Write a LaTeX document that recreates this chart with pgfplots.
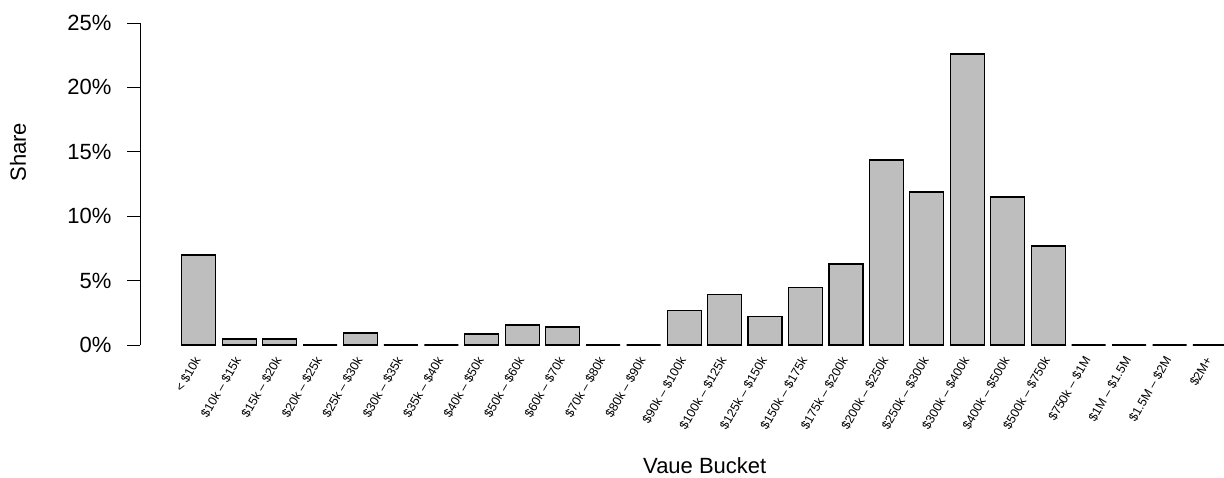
\documentclass[border=0pt]{standalone}
\usepackage{fontspec}
\setmainfont{Liberation Sans}
\usepackage{pgfplots}
\pgfplotsset{compat=1.18}
\definecolor{bargray}{HTML}{BEBEBE}

\begin{document}
\begin{tikzpicture}
\begin{axis}[
    scale only axis,
    width=542pt, height=161pt,
    xmin=-1.451, xmax=25.347,
    ymin=0, ymax=25,
    axis y line*=left,
    axis x line*=bottom,
    axis line style={-},
    x axis line style={draw=none},
    xtick style={draw=none},
    ytick style={black, line width=0.5pt},
    tick align=outside,
    major tick length=6.5pt,
    ytick={0,5,10,15,20,25},
    yticklabels={0\%,5\%,10\%,15\%,20\%,25\%},
    yticklabel style={font=\fontsize{11}{13}\selectfont, anchor=east, inner sep=0pt, xshift=-7.6pt},
    xtick={0,...,25},
    xticklabels={
        {< \$10k},{\$10k -- \$15k},{\$15k -- \$20k},{\$20k -- \$25k},{\$25k -- \$30k},
        {\$30k -- \$35k},{\$35k -- \$40k},{\$40k -- \$50k},{\$50k -- \$60k},{\$60k -- \$70k},
        {\$70k -- \$80k},{\$80k -- \$90k},{\$90k -- \$100k},{\$100k -- \$125k},{\$125k -- \$150k},
        {\$150k -- \$175k},{\$175k -- \$200k},{\$200k -- \$250k},{\$250k -- \$300k},{\$300k -- \$400k},
        {\$400k -- \$500k},{\$500k -- \$750k},{\$750k -- \$1M},{\$1M -- \$1.5M},{\$1.5M -- \$2M},{\$2M+}},
    xticklabel style={font=\fontsize{6.2}{7}\selectfont, rotate=60, anchor=east, inner sep=0pt, yshift=0.6pt},
    xlabel={Vaue Bucket},
    ylabel={Share},
    every axis x label/.style={at={(axis description cs:0.521,-0.3975)}, anchor=base, font=\fontsize{11}{13}\selectfont},
    every axis y label/.style={at={(axis description cs:-0.1125,0.599)}, anchor=center, rotate=90, font=\fontsize{11}{13}\selectfont},
    ybar,
    bar width=0.84,
]
\addplot[fill=bargray, draw=black, line width=0.6pt] coordinates {
    (0,6.99) (1,0.47) (2,0.47) (3,0) (4,0.93) (5,0) (6,0) (7,0.85) (8,1.55) (9,1.40)
    (10,0) (11,0) (12,2.66) (13,3.94) (14,2.23) (15,4.48) (16,6.29) (17,14.36) (18,11.88)
    (19,22.6) (20,11.49) (21,7.69) (22,0) (23,0) (24,0) (25,0)
};
\end{axis}
\pgfresetboundingbox
\path[use as bounding box] (-70pt,-66pt) rectangle (542pt,172.5pt);
\end{tikzpicture}
\end{document}
